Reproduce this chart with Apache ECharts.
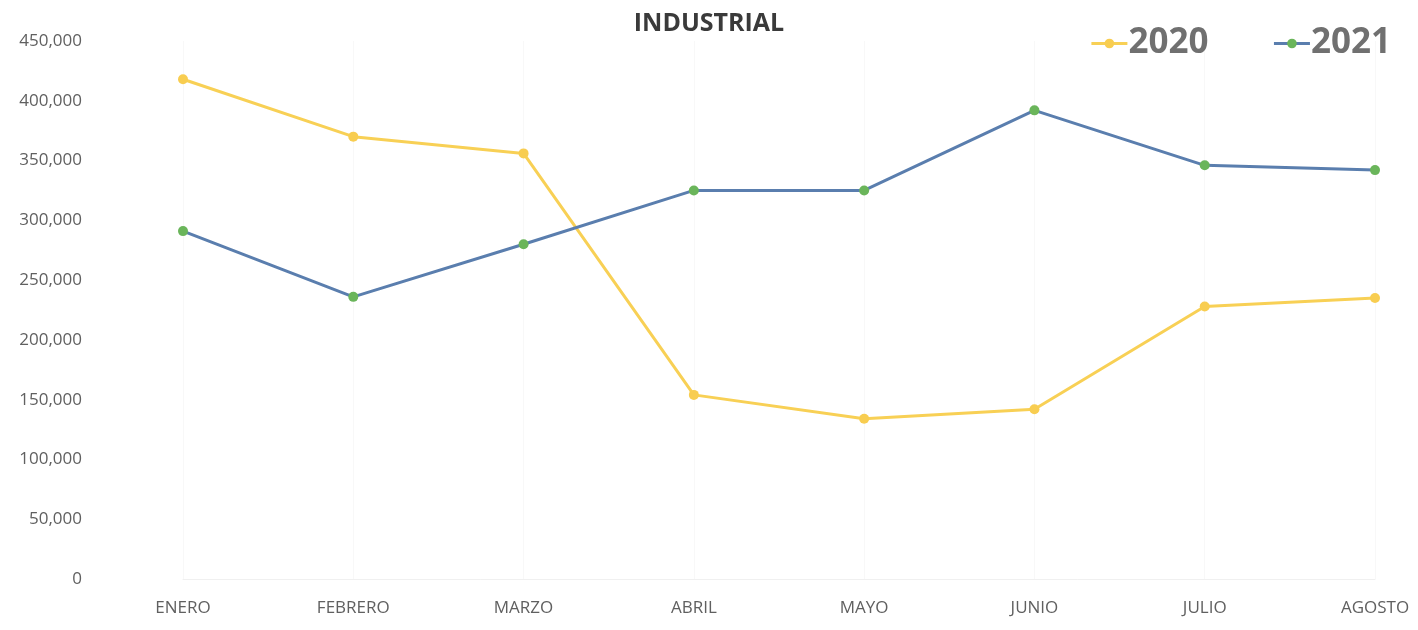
<!DOCTYPE html>
<html>
<head>
<meta charset="utf-8">
<script src="https://cdn.jsdelivr.net/npm/echarts@6/dist/echarts.min.js"></script>
<style>
html,body{margin:0;padding:0;background:#fff;}
#chart{width:1418px;height:630px;}
</style>
</head>
<body>
<div id="chart"></div>
<script>
var categories = ['ENERO','FEBRERO','MARZO','ABRIL','MAYO','JUNIO','JULIO','AGOSTO'];
var values2020 = [418000, 370000, 356000, 154000, 134000, 142000, 228000, 235000];
var values2021 = [291000, 236000, 280000, 325000, 325000, 392000, 346000, 342000];
var seriesNames = ['2020','2021'];

var chart = echarts.init(document.getElementById('chart'));
var font = '"Open Sans", "Liberation Sans", sans-serif';
chart.setOption({
  animation: false,
  backgroundColor: '#ffffff',
  title: {
    text: 'INDUSTRIAL',
    left: 'center',
    top: 6,
    textStyle: {fontFamily: font, fontSize: 25, fontWeight: 'bold', color: '#3a3a3a'}
  },
  legend: {
    data: seriesNames,
    right: 22,
    top: 21,
    itemWidth: 36,
    itemHeight: 12,
    itemGap: 64,
    lineStyle: {width: 3},
    textStyle: {fontFamily: font, fontSize: 35, fontWeight: 'bold', color: '#707070', padding: [0,0,0,-4]}
  },
  grid: {left: 183, right: 43, top: 41, bottom: 51},
  xAxis: {
    type: 'category',
    data: categories,
    boundaryGap: false,
    axisLine: {show: true, lineStyle: {color: '#f0f0f0', width: 1}},
    axisTick: {show: false},
    splitLine: {show: true, lineStyle: {color: '#f8f8f8', width: 1}},
    axisLabel: {fontFamily: font, fontSize: 17, color: '#606060', margin: 21}
  },
  yAxis: {
    type: 'value',
    min: 0,
    max: 450000,
    interval: 50000,
    axisLine: {show: false},
    axisTick: {show: false},
    splitLine: {show: false},
    axisLabel: {
      fontFamily: font, fontSize: 17, color: '#606060', margin: 101,
      formatter: function (v) { return v.toLocaleString('en-US'); }
    }
  },
  series: [
    {
      name: seriesNames[0],
      type: 'line',
      data: values2020,
      symbol: 'circle',
      symbolSize: 10,
      lineStyle: {color: '#f8d055', width: 3},
      itemStyle: {color: '#f8cd50'}
    },
    {
      name: seriesNames[1],
      type: 'line',
      data: values2021,
      symbol: 'circle',
      symbolSize: 10,
      lineStyle: {color: '#5a7eae', width: 3},
      itemStyle: {color: '#6ab55a'}
    }
  ]
});
</script>
</body>
</html>
